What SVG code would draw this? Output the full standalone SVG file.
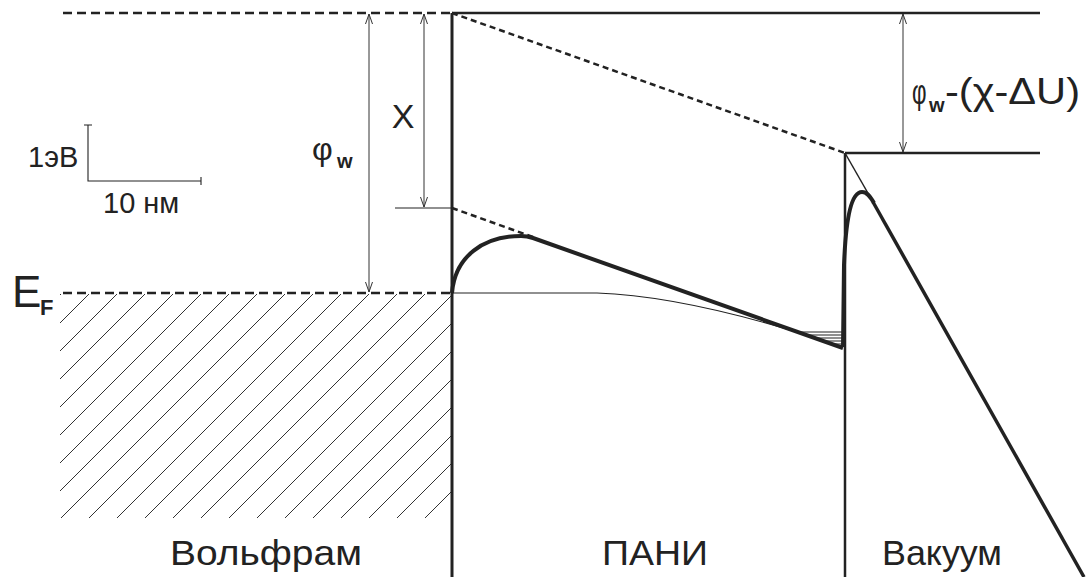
<svg xmlns="http://www.w3.org/2000/svg" width="1086" height="577" viewBox="0 0 1086 577">
<style>
.t{font-family:"Liberation Sans",Arial,sans-serif;fill:#222}
.dash{stroke:#222;stroke-width:2.5;stroke-dasharray:9 5;fill:none}
.dash2{stroke:#222;stroke-width:2.5;stroke-dasharray:6 4;fill:none}
.solid{stroke:#222;stroke-width:2.5;fill:none}
.thick{stroke:#222;stroke-width:4;fill:none;stroke-linejoin:round}
.thin{stroke:#222;stroke-width:1.1;fill:none}
.dim{stroke:#333;stroke-width:1;fill:none;marker-start:url(#ah);marker-end:url(#ah)}
</style>
<defs>
<marker id="ah" viewBox="0 0 10 10" refX="10" refY="5" markerWidth="10" markerHeight="10" markerUnits="userSpaceOnUse" orient="auto-start-reverse">
<path d="M0,1.5 L10,5 L0,8.5" fill="none" stroke="#333" stroke-width="1"/>
</marker>
<pattern id="hatch" patternUnits="userSpaceOnUse" x="19" y="0" width="28" height="28">
<path d="M0,28 L28,0 M-2,2 L2,-2 M26,30 L30,26" stroke="#333" stroke-width="1"/>
</pattern>
</defs>
<rect width="1086" height="577" fill="#fff"/>

<g id="tungsten">
<rect x="60" y="294" width="391" height="224" fill="url(#hatch)"/>
<line class="dash" x1="63" y1="13" x2="452" y2="13"/>
<line class="dash" x1="63" y1="293" x2="452" y2="293"/>
<text class="t" x="170" y="565" font-size="35" textLength="192" lengthAdjust="spacingAndGlyphs">Вольфрам</text>
</g>

<g id="pani">
<line x1="452" y1="13" x2="452" y2="577" stroke="#222" stroke-width="3"/>
<line class="solid" x1="452" y1="13" x2="1040" y2="13"/>
<line class="dash2" x1="452" y1="13" x2="845" y2="153"/>
<line class="dash2" x1="452" y1="208" x2="533" y2="237"/>
<path class="thick" d="M452,293 C455,256 484,236 521,236 C526,236 530,237 533,238 L843,348"/>
<path class="thin" d="M452,293 L597,293 C655,295 725,310 800,333"/>
<path class="thin" d="M798,332 H843 M806,335 H843 M815,338 H843 M823,341 H843 M832,344 H843"/>
<text class="t" x="602" y="565" font-size="35" textLength="106" lengthAdjust="spacingAndGlyphs">ПАНИ</text>
</g>

<g id="vacuum">
<line class="solid" x1="845" y1="153" x2="1040" y2="153"/>
<line class="solid" x1="845" y1="153" x2="845" y2="577"/>
<line x1="845" y1="153" x2="873" y2="202" stroke="#222" stroke-width="1.5"/>
<line x1="873" y1="202" x2="1084" y2="577" stroke="#222" stroke-width="3.5"/>
<path class="thick" d="M843,347 L844,265 C846,215 852,192 862,192 C867,192 870,196 874,203"/>
<text class="t" x="882" y="565" font-size="35" textLength="120" lengthAdjust="spacingAndGlyphs">Вакуум</text>
</g>

<g id="scale">
<path class="thin" d="M88,125 V181 H201 M84,125 H92 M201,177 V185"/>
<text class="t" x="28" y="167" font-size="29">1эВ</text>
<text class="t" x="103" y="213" font-size="29">10 нм</text>
</g>

<g id="labels">
<text class="t" x="12" y="307" font-size="44">E<tspan x="40" y="315" font-size="22" font-weight="bold">F</tspan></text>
<text class="t" x="312" y="160" font-size="32">φ<tspan x="337" y="168" font-size="20" font-weight="bold">w</tspan></text>
<text class="t" x="403" y="128" font-size="34" text-anchor="middle">X</text>
<text class="t" transform="translate(912,104) scale(0.64,1)" x="0" y="0" font-size="35">φ</text>
<text class="t" x="929" y="112" font-size="20"><tspan font-weight="bold">w</tspan><tspan x="945" y="104" font-size="37" textLength="135" lengthAdjust="spacingAndGlyphs">-(χ-ΔU)</tspan></text>
</g>

<g id="connectors">
<line class="dim" x1="369" y1="14" x2="369" y2="292"/>
<line class="dim" x1="424" y1="14" x2="424" y2="207"/>
<line class="thin" x1="395" y1="208" x2="452" y2="208"/>
<line class="dim" x1="903" y1="14" x2="903" y2="152"/>
</g>
</svg>
